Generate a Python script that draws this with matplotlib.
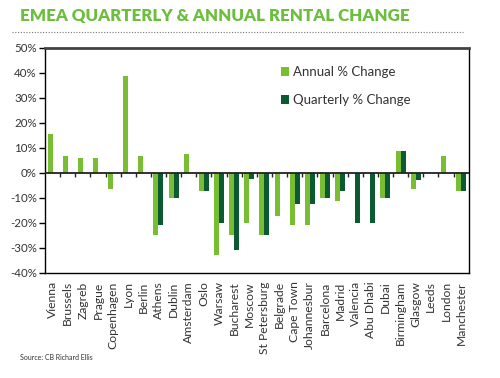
import matplotlib
matplotlib.use("Agg")
import matplotlib.pyplot as plt
from matplotlib.lines import Line2D
import numpy as np

cities = ["Vienna", "Brussels", "Zagreb", "Prague", "Copenhagen", "Lyon", "Berlin",
          "Athens", "Dublin", "Amsterdam", "Oslo", "Warsaw", "Bucharest", "Moscow",
          "St Petersburg", "Belgrade", "Cape Town", "Johannesbur", "Barcelona", "Madrid",
          "Valencia", "Abu Dhabi", "Dubai", "Birmingham", "Glasgow", "Leeds", "London",
          "Manchester"]
annual = [15.6, 6.8, 5.8, 5.8, -6.3, 38.5, 6.8,
          -25, -10, 7.5, -7.3, -32.8, -25, -20,
          -25, -17.4, -21, -21, -10, -11.2,
          0, 0, -10, 8.5, -6.3, 0, 6.8, -7.4]
quarterly = [0, 0, 0, 0, 0, 0, 0,
             -21, -10, 0, -7.3, -20, -31, -2.4,
             -25, 0, -12.4, -12.4, -10, -7.4,
             -20, -20, -10, 8.5, -2.9, 0, 0, -7.4]
yticks = [50, 40, 30, 20, 10, 0, -10, -20, -30, -40]

light = "#78bd32"
dark = "#0b5a31"
txt = "#333333"
plt.rcParams['font.family'] = ['Lato', 'DejaVu Sans']

fig = plt.figure(figsize=(5, 3.78), dpi=100)
ax = fig.add_axes([0.09, 0.2778, 0.8474, 0.5965])

x = np.arange(len(cities))
w = 0.33
ax.bar(x - w / 2, annual, width=w, color=light, label="Annual % Change")
ax.bar(x + w / 2, quarterly, width=w, color=dark, label="Quarterly % Change")

ax.set_xlim(-0.5, len(cities) - 0.5)
ax.set_ylim(-40, 50)
ax.set_yticks(yticks)
ax.set_yticklabels([f"{v}%" for v in yticks], fontsize=8.3, color=txt)
ax.tick_params(axis='y', length=4, width=1, color='black', pad=2)

ax.set_xticks(x)
ax.set_xticklabels(cities, rotation=90, fontsize=8.7, color=txt, va='top', ha='center')
ax.tick_params(axis='x', length=0, pad=6)

ax.axhline(0, color='#222222', lw=1.3, zorder=3)
ax.vlines(x[:-1] + 0.5, -1.6, 0, color='#222222', lw=1, zorder=3)

for side in ['left', 'right', 'bottom']:
    ax.spines[side].set_color('black')
    ax.spines[side].set_linewidth(1)
ax.spines['top'].set_color('#444444')
ax.spines['top'].set_linewidth(2)

ax.legend(loc='upper left', bbox_to_anchor=(0.53, 0.97), frameon=False,
          fontsize=9.5, handlelength=0.6, handleheight=0.6, handletextpad=0.25,
          labelspacing=1.2, labelcolor=txt)

fig.text(0.04, 0.958, "EMEA QUARTERLY & ANNUAL RENTAL CHANGE", fontsize=12.2,
         fontweight='heavy', color='#6cbf3c', va='center', ha='left')
fig.add_artist(Line2D([0.024, 0.926], [0.915, 0.915], transform=fig.transFigure,
                      color='#777777', lw=0.8, linestyle=(0, (1, 1.5))))
fig.text(0.04, 0.053, "Source: CB Richard Ellis", fontsize=5, color=txt, va='center')

fig.savefig("out.png", dpi=100)
